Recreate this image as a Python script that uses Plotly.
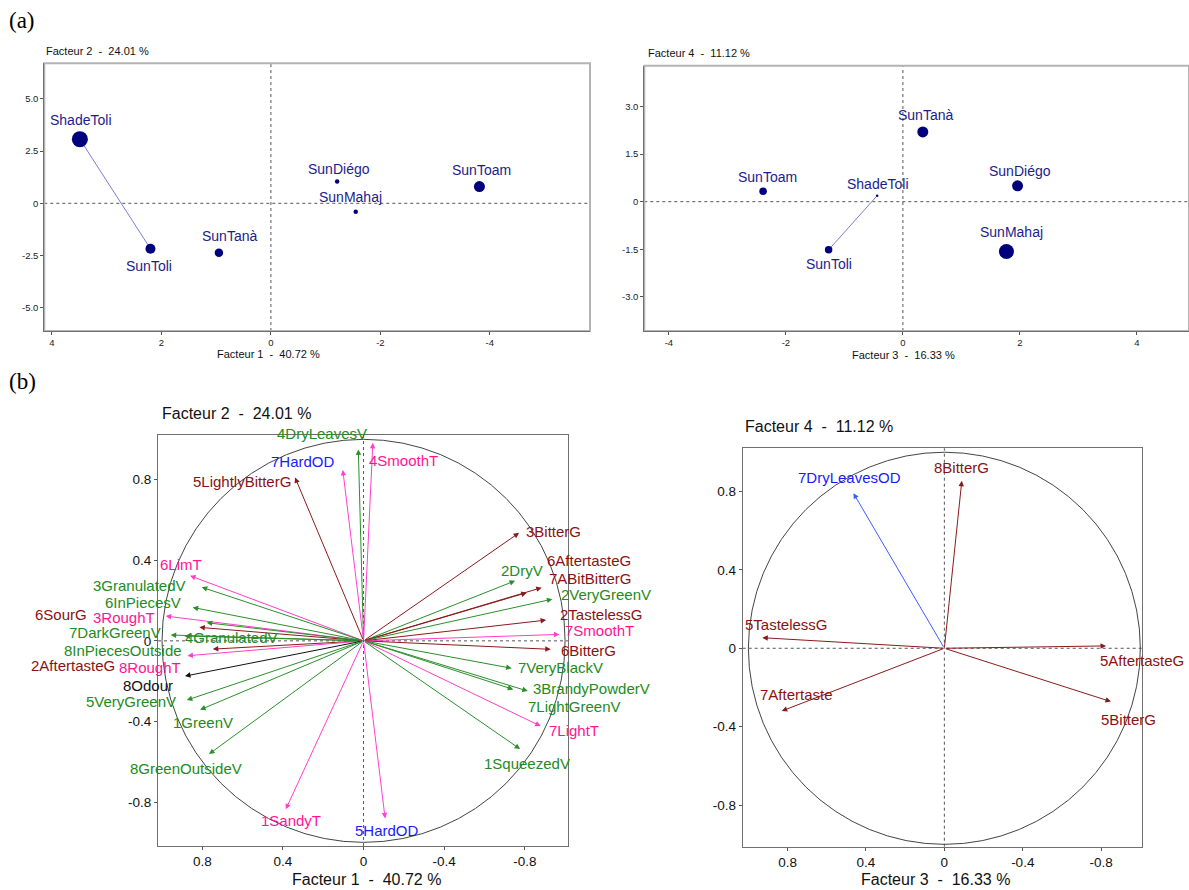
import plotly.graph_objects as go

W, H = 1189, 890
FONT = "Liberation Sans, Arial, sans-serif"
SERIF = "Liberation Serif, Times New Roman, serif"

# ---------------- data: individuals (panel a) ----------------
ind_names = ["ShadeToli", "SunToli", "SunTanà", "SunDiégo", "SunMahaj", "SunToam"]
ind_f1 = [3.49, 2.20, 0.95, -1.21, -1.55, -3.81]
ind_f2 = [3.07, -2.18, -2.37, 1.04, -0.40, 0.80]
ind_f3 = [-0.44, -1.27, 0.34, 1.96, 1.77, -2.39]
ind_f4 = [0.19, -1.52, 2.20, 0.50, -1.57, 0.33]
ind_size_12 = [16, 10, 8.5, 4.5, 4.5, 11]
ind_size_34 = [2.5, 7.5, 11, 11, 15, 7.5]

# ---------------- data: variables, factors 1-2 (panel b, left) ----------------
var12_names = ["4DryLeavesV", "7HardOD", "4SmoothT", "5LightlyBitterG", "6LimT",
               "3GranulatedV", "6InPiecesV", "3RoughT", "6SourG", "7DarkGreenV",
               "4GranulatedV", "8InPiecesOutside", "2AftertasteG", "8RoughT", "8Odour",
               "5VeryGreenV", "1GreenV", "8GreenOutsideV", "1SandyT", "5HardOD",
               "3BitterG", "2DryV", "6AftertasteG", "7ABitBitterG", "2VeryGreenV",
               "2TastelessG", "7SmoothT", "6BitterG", "7VeryBlackV", "3BrandyPowderV",
               "7LightGreenV", "7LightT", "1SqueezedV"]
var12_f1 = [0.026, 0.103, -0.046, 0.340, 0.861,
            0.803, 0.848, 0.982, 0.815, 0.957,
            0.889, 0.778, 0.748, 0.874, 0.886,
            0.877, 0.811, 0.767, 0.386, -0.107,
            -0.772, -0.752, -0.884, -0.810, -0.937,
            -0.906, -0.972, -0.929, -0.735, -0.815,
            -0.743, -0.879, -0.777]
var12_f2 = [0.950, 0.848, 0.983, 0.811, 0.323,
            0.266, 0.166, 0.123, 0.067, 0.029,
            0.024, 0.090, -0.041, -0.074, -0.175,
            -0.294, -0.342, -0.562, -0.836, -0.881,
            0.536, 0.298, 0.264, 0.239, 0.207,
            0.103, 0.032, -0.042, -0.136, -0.249,
            -0.241, -0.423, -0.537]
var12_group = ["V", "ODm", "T", "G", "T",
               "V", "V", "T", "G", "V",
               "V", "V", "G", "T", "O",
               "V", "V", "V", "T", "ODm",
               "G", "V", "G", "G", "V",
               "G", "T", "G", "V", "V",
               "V", "T", "V"]

# ---------------- data: variables, factors 3-4 (panel b, right) ----------------
var34_names = ["7DryLeavesOD", "8BitterG", "5TastelessG", "5AftertasteG", "7Aftertaste", "5BitterG"]
var34_f3 = [0.464, -0.089, 0.929, -0.825, 0.830, -0.850]
var34_f4 = [0.791, 0.854, 0.054, 0.012, -0.320, -0.272]
var34_group = ["ODb", "G", "G", "G", "G", "G"]

# ---------------- styles / label placement (pixels) ----------------
arrow_col = {"V": "#2a8f2a", "G": "#8b1a1a", "T": "#ff3fc8", "ODm": "#ff3fd8",
             "ODb": "#3a5cff", "O": "#111111"}
text_col = {"V": "#228b22", "G": "#8b1111", "T": "#ff1493", "ODm": "#1a1aff",
            "ODb": "#1a1aff", "O": "#111111"}

lab12 = [("right", 10.7, 16.3), ("right", -5.7, 8.3), ("left", -6, -17.3), ("right", -2.3, -4.4),
         ("left", -32, 11.7), ("right", -14, 1.6), ("right", -9.7, 4.6), ("right", -8.7, -1.7),
         ("right", -110.3, 13), ("right", -7.4, 2.3), ("left", -1.6, -1.3), ("right", -22.7, -27.3),
         ("right", -95.7, -16), ("right", -4.6, -12), ("right", -10, -9), ("right", -8.4, -1.7),
         ("left", -29.3, -12.7), ("left", -81, -14.3), ("left", -26.7, -10.7), ("left", -32.3, -12.4),
         ("left", 5, 1.7), ("left", -16, 10.7), ("left", 3.3, 27), ("left", 20.6, 14.4),
         ("left", 7, 5), ("left", 11.7, 6), ("left", 4, 3.6), ("left", 8.6, -0.7),
         ("left", 4.3, 0.6), ("left", 3.3, 2.7), ("left", 12.7, -16.7), ("left", 6, -4),
         ("left", -38.3, -14.3)]
lab34 = [("center", -4.3, 15.6), ("center", -0.4, 13.7), ("left", -19, 13.4),
         ("left", -7.7, -14.7), ("left", -24, 17), ("left", -12, -17.6)]
ind_lab12 = [(1, 19), (-1.4, -17), (11, 17), (1.6, 13), (-5, 15), (2.5, 17)]
ind_lab34 = [(0.7, 12), (0, -14), (2.6, 17), (2, 15), (5, 19), (4, 14)]

NAVY = "#00007f"
NAVY_T = "#1c1c8c"


def px_dom(a, b, total):
    return [a / total, b / total]


def py_dom(top, bottom):
    return [1 - bottom / H, 1 - top / H]


fig = go.Figure()

# ---------- panel a (top) ----------
for (xa, ya, fx, fy, sizes, labs) in [("x", "y", ind_f1, ind_f2, ind_size_12, ind_lab12),
                                      ("x2", "y2", ind_f3, ind_f4, ind_size_34, ind_lab34)]:
    fig.add_trace(go.Scatter(x=[fx[0], fx[1]], y=[fy[0], fy[1]], mode="lines",
                             line=dict(color="#7c7cd8", width=1), xaxis=xa, yaxis=ya,
                             hoverinfo="skip", showlegend=False))
    fig.add_trace(go.Scatter(x=fx, y=fy, mode="markers",
                             marker=dict(color=NAVY, size=sizes, opacity=1, line=dict(width=0)),
                             xaxis=xa, yaxis=ya, showlegend=False, text=ind_names))
    for i, n in enumerate(ind_names):
        fig.add_annotation(x=fx[i], y=fy[i], xref=xa, yref=ya, text=n, showarrow=False,
                           xanchor="center", yanchor="middle", xshift=labs[i][0], yshift=labs[i][1],
                           font=dict(family=FONT, size=14, color=NAVY_T))

# ---------- panel b (bottom) ----------
for (xa, ya, fx, fy, names, groups, labs) in [
        ("x3", "y3", var12_f1, var12_f2, var12_names, var12_group, lab12),
        ("x4", "y4", var34_f3, var34_f4, var34_names, var34_group, lab34)]:
    fig.add_trace(go.Scatter(x=fx, y=fy, mode="markers", marker=dict(size=1, opacity=0),
                             xaxis=xa, yaxis=ya, showlegend=False, text=names))
    for i, n in enumerate(names):
        g = groups[i]
        fig.add_annotation(x=fx[i], y=fy[i], ax=0, ay=0, xref=xa, yref=ya, axref=xa, ayref=ya,
                           text="", showarrow=True, arrowhead=2, arrowsize=1.1, arrowwidth=1,
                           arrowcolor=arrow_col[g], standoff=0)
        anc, dx, dy = labs[i]
        fig.add_annotation(x=fx[i], y=fy[i], xref=xa, yref=ya, text=n, showarrow=False,
                           xanchor=anc, yanchor="middle", xshift=dx, yshift=dy,
                           font=dict(family=FONT, size=15, color=text_col[g]))

shapes = []
# circles
for xa, ya in [("x3", "y3"), ("x4", "y4")]:
    shapes.append(dict(type="circle", xref=xa, yref=ya, x0=-1, x1=1, y0=-1, y1=1,
                       line=dict(color="#444444", width=1), layer="below"))
# dotted zero lines
for xa, ya in [("x", "y"), ("x2", "y2"), ("x3", "y3"), ("x4", "y4")]:
    shapes.append(dict(type="line", xref=xa + " domain", yref=ya, x0=0, x1=1, y0=0, y1=0,
                       line=dict(color="#555555", width=1, dash="dot"), layer="below"))
    shapes.append(dict(type="line", xref=xa, yref=ya + " domain", x0=0, x1=0, y0=0, y1=1,
                       line=dict(color="#555555", width=1, dash="dot"), layer="below"))
# frames of top panels (light gray)
for xa, ya in [("x", "y"), ("x2", "y2")]:
    shapes.append(dict(type="rect", xref=xa + " domain", yref=ya + " domain", x0=0, x1=1, y0=0, y1=1,
                       line=dict(color="#b4b4b4", width=2), layer="below"))

axis_common = dict(showgrid=False, zeroline=False, showline=True, ticks="outside",
                   tickcolor="#555555", ticklen=3, linecolor="#707070", linewidth=1)

top_tick = dict(family=FONT, size=9.5, color="#222222")
bot_tick = dict(family=FONT, size=13.5, color="#111111")

fig.update_layout(
    width=W, height=H, margin=dict(l=0, r=0, t=0, b=0),
    paper_bgcolor="white", plot_bgcolor="white", showlegend=False,
    xaxis=dict(domain=px_dom(44.3, 590, W), range=[4.14, -5.83], anchor="y",
               tickvals=[4, 2, 0, -2, -4], ticktext=["4", "2", "0", "-2", "-4"],
               tickfont=top_tick, **axis_common),
    yaxis=dict(domain=py_dom(63.3, 331), range=[-6.12, 6.71], anchor="x",
               tickvals=[5, 2.5, 0, -2.5, -5], ticktext=["5.0", "2.5", "0", "-2.5", "-5.0"],
               tickfont=top_tick, **axis_common),
    xaxis2=dict(domain=[644.3 / W, 1.0], range=[-4.42, 4.89], anchor="y2",
                tickvals=[-4, -2, 0, 2, 4], ticktext=["-4", "-2", "0", "2", "4"],
                tickfont=top_tick, **axis_common),
    yaxis2=dict(domain=py_dom(65.7, 331), range=[-4.08, 4.29], anchor="x2",
                tickvals=[3, 1.5, 0, -1.5, -3], ticktext=["3.0", "1.5", "0", "-1.5", "-3.0"],
                tickfont=top_tick, **axis_common),
    xaxis3=dict(domain=px_dom(158, 568.3, W), range=[1.02, -1.016], anchor="y3",
                tickvals=[0.8, 0.4, 0, -0.4, -0.8], ticktext=["0.8", "0.4", "0", "-0.4", "-0.8"],
                tickfont=bot_tick, mirror=True, **axis_common),
    yaxis3=dict(domain=py_dom(434.7, 846), range=[-1.018, 1.023], anchor="x3",
                tickvals=[0.8, 0.4, 0, -0.4, -0.8], ticktext=["0.8", "0.4", "0", "-0.4", "-0.8"],
                tickfont=bot_tick, mirror=True, **axis_common),
    xaxis4=dict(domain=px_dom(742.7, 1142.3, W), range=[1.029, -1.01], anchor="y4",
                tickvals=[0.8, 0.4, 0, -0.4, -0.8], ticktext=["0.8", "0.4", "0", "-0.4", "-0.8"],
                tickfont=bot_tick, mirror=True, **axis_common),
    yaxis4=dict(domain=py_dom(448.3, 846.7), range=[-1.012, 1.02], anchor="x4",
                tickvals=[0.8, 0.4, 0, -0.4, -0.8], ticktext=["0.8", "0.4", "0", "-0.4", "-0.8"],
                tickfont=bot_tick, mirror=True, **axis_common),
    shapes=shapes,
)

SP = "\u00a0"
titles = [
    ("Facteur 2" + SP * 2 + "-" + SP * 2 + "24.01 %", 43.6, 50.7, "left", 11),
    ("Facteur 1" + SP * 2 + "-" + SP * 2 + "40.72 %", 268, 353.5, "center", 11),
    ("Facteur 4" + SP * 2 + "-" + SP * 2 + "11.12 %", 645.8, 52.7, "left", 11),
    ("Facteur 3" + SP * 2 + "-" + SP * 2 + "16.33 %", 903.5, 355, "center", 11),
    ("Facteur 2" + SP * 2 + "-" + SP * 2 + "24.01 %", 160, 413.3, "left", 16),
    ("Facteur 1" + SP * 2 + "-" + SP * 2 + "40.72 %", 366.7, 879.3, "center", 16),
    ("Facteur 4" + SP * 2 + "-" + SP * 2 + "11.12 %", 743.3, 426.7, "left", 16),
    ("Facteur 3" + SP * 2 + "-" + SP * 2 + "16.33 %", 935, 879.3, "center", 16),
]
for t, x, y, anc, s in titles:
    fig.add_annotation(x=x / W, y=1 - y / H, xref="paper", yref="paper", text=t, showarrow=False,
                       xanchor=anc, yanchor="middle", font=dict(family=FONT, size=s, color="#111111"))

for t, y in [("(a)", 20), ("(b)", 381)]:
    fig.add_annotation(x=7 / W, y=1 - y / H, xref="paper", yref="paper", text=t, showarrow=False,
                       xanchor="left", yanchor="middle", font=dict(family=SERIF, size=23, color="#000000"))

fig.write_html("out.html", config={"displayModeBar": False},
               post_script="document.body.style.margin='0px';document.body.style.overflow='hidden';")
